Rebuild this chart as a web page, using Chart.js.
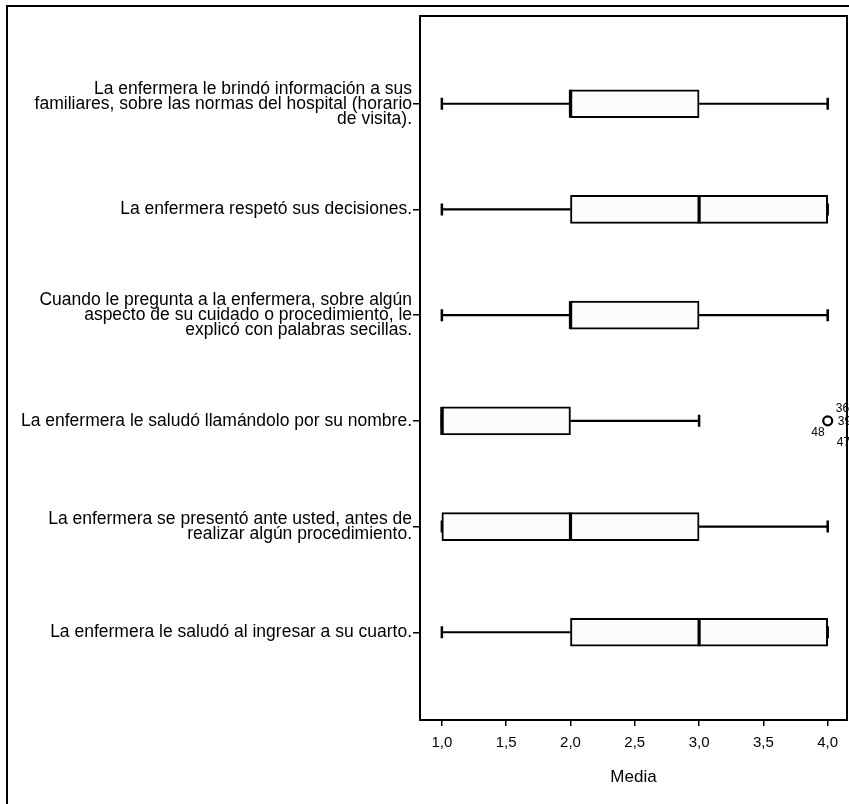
<!DOCTYPE html>
<html>
<head>
<meta charset="utf-8">
<script src="https://cdn.jsdelivr.net/npm/chart.js@4/dist/chart.umd.min.js"></script>
<style>
  html, body { margin: 0; padding: 0; background: #fff; overflow: hidden; }
  #wrap { position: absolute; left: 0; top: 0; width: 849px; height: 804px; }
</style>
</head>
<body>
<div id="wrap"><canvas id="c" width="849" height="804"></canvas></div>
<script>
// Items of the survey (one box per item, top to bottom)
const categories = [
  ["La enfermera le brindó información a sus", "familiares, sobre las normas del hospital (horario", "de visita)."],
  ["La enfermera respetó sus decisiones."],
  ["Cuando le pregunta a la enfermera, sobre algún", "aspecto de su cuidado o procedimiento, le", "explicó con palabras secillas."],
  ["La enfermera le saludó llamándolo por su nombre."],
  ["La enfermera se presentó ante usted, antes de", "realizar algún procedimiento."],
  ["La enfermera le saludó al ingresar a su cuarto."]
];

// Five-number summaries per item
const whiskerLow  = [1, 1, 1, 1, 1, 1];
const quartile1   = [2, 2, 2, 1, 1, 2];
const medians     = [2, 3, 2, 1, 2, 3];
const quartile3   = [3, 4, 3, 2, 3, 4];
const whiskerHigh = [4, 4, 4, 3, 4, 4];

// Outliers: item index, value, case numbers
const outlierItem  = [3];
const outlierValue = [4];
const outlierCases = [["36", "39", "48", "47"]];

// Axis ticks
const xTicks = [1.0, 1.5, 2.0, 2.5, 3.0, 3.5, 4.0];
const xTitle = "Media";

const BOX_H = 28;
const FONT = "'Liberation Sans', Arial, sans-serif";

const boxData = categories.map((_, i) => ({ x: [quartile1[i], quartile3[i]], y: i }));
const outlierData = outlierItem.map((it, k) => ({ x: outlierValue[k], y: it }));

const boxPlotPlugin = {
  id: 'boxPlotParts',
  beforeDraw(chart) {
    const ctx = chart.ctx;
    ctx.save();
    ctx.fillStyle = '#fff';
    ctx.fillRect(0, 0, chart.width, chart.height);
    // outer frame of the figure
    ctx.strokeStyle = '#000';
    ctx.lineWidth = 2;
    ctx.beginPath();
    ctx.moveTo(7, chart.height);
    ctx.lineTo(7, 6);
    ctx.lineTo(chart.width, 6);
    ctx.stroke();
    ctx.restore();
  },
  beforeDatasetsDraw(chart) {
    const ctx = chart.ctx, xs = chart.scales.x, ys = chart.scales.y;
    ctx.save();
    ctx.strokeStyle = '#000';
    categories.forEach((_, i) => {
      const y = ys.getPixelForValue(i);
      const xl = xs.getPixelForValue(whiskerLow[i]);
      const x1 = xs.getPixelForValue(quartile1[i]);
      const x3 = xs.getPixelForValue(quartile3[i]);
      const xh = xs.getPixelForValue(whiskerHigh[i]);
      ctx.lineWidth = 2.2;
      ctx.beginPath();
      ctx.moveTo(xl, y); ctx.lineTo(x1, y);
      ctx.moveTo(x3, y); ctx.lineTo(xh, y);
      ctx.stroke();
      ctx.lineWidth = 2.5;
      ctx.beginPath();
      ctx.moveTo(xl, y - 6); ctx.lineTo(xl, y + 6);
      ctx.moveTo(xh, y - 6); ctx.lineTo(xh, y + 6);
      ctx.stroke();
    });
    ctx.restore();
  },
  afterDatasetsDraw(chart) {
    const ctx = chart.ctx, xs = chart.scales.x, ys = chart.scales.y;
    ctx.save();
    ctx.strokeStyle = '#000';
    ctx.lineWidth = 3.2;
    categories.forEach((_, i) => {
      const y = ys.getPixelForValue(i);
      const xm = xs.getPixelForValue(medians[i]);
      ctx.beginPath();
      ctx.moveTo(xm, y - BOX_H / 2);
      ctx.lineTo(xm, y + BOX_H / 2);
      ctx.stroke();
    });
    // case numbers next to the outliers
    ctx.fillStyle = '#000';
    ctx.font = '12px ' + FONT;
    ctx.textBaseline = 'middle';
    const spots = [[8, -12, 'left'], [10, 1, 'left'], [-3, 12, 'right'], [9, 22, 'left']];
    outlierItem.forEach((it, k) => {
      const px = xs.getPixelForValue(outlierValue[k]);
      const py = ys.getPixelForValue(it);
      outlierCases[k].forEach((lab, j) => {
        const s = spots[j % spots.length];
        ctx.textAlign = s[2];
        ctx.fillText(lab, px + s[0], py + s[1]);
      });
    });
    // frame around the plotting area
    const a = chart.chartArea;
    ctx.lineWidth = 2;
    ctx.strokeRect(a.left, a.top, a.right - a.left, a.bottom - a.top);
    ctx.restore();
  }
};

new Chart(document.getElementById('c'), {
  type: 'bar',
  data: {
    datasets: [
      {
        type: 'bar',
        indexAxis: 'y',
        data: boxData,
        barThickness: BOX_H,
        backgroundColor: '#fcfcfc',
        borderColor: '#000',
        borderWidth: 2,
        borderSkipped: false
      },
      {
        type: 'scatter',
        data: outlierData,
        clip: false,
        pointStyle: 'circle',
        pointRadius: 4.5,
        pointBorderWidth: 2.2,
        pointBorderColor: '#000',
        pointBackgroundColor: '#fff'
      }
    ]
  },
  options: {
    responsive: false,
    animation: false,
    events: [],
    layout: { autoPadding: false, padding: { top: 16, right: 2, left: 0, bottom: 0 } },
    plugins: { legend: { display: false }, tooltip: { enabled: false } },
    scales: {
      x: {
        type: 'linear',
        offset: false,
        min: 0.83,
        max: 4.15,
        afterBuildTicks: s => { s.ticks = xTicks.map(v => ({ value: v })); },
        afterFit: s => { s.height = 84; s.paddingLeft = 0; s.paddingRight = 0; },
        border: { display: false },
        grid: { offset: false, drawOnChartArea: false, drawTicks: true, tickLength: 6, color: '#000', lineWidth: 1.5 },
        ticks: {
          color: '#000',
          padding: 8,
          font: { family: FONT, size: 15 },
          maxRotation: 0,
          callback: v => v.toFixed(1).replace('.', ',')
        },
        title: {
          display: true,
          text: xTitle,
          color: '#000',
          font: { family: FONT, size: 17 },
          padding: { top: 0, bottom: 16 }
        }
      },
      y: {
        type: 'linear',
        offset: false,
        reverse: true,
        min: -0.83,
        max: 5.83,
        afterBuildTicks: s => { s.ticks = categories.map((_, i) => ({ value: i })); },
        afterFit: s => { s.width = 420; s.paddingTop = 0; s.paddingBottom = 0; },
        border: { display: false },
        grid: { offset: false, drawOnChartArea: false, drawTicks: true, tickLength: 7, color: '#000', lineWidth: 1.5 },
        ticks: {
          color: '#000',
          padding: 1,
          autoSkip: false,
          font: { family: FONT, size: 17.5, lineHeight: '15px' },
          callback: v => categories[v]
        }
      }
    }
  },
  plugins: [boxPlotPlugin]
});
</script>
</body>
</html>
